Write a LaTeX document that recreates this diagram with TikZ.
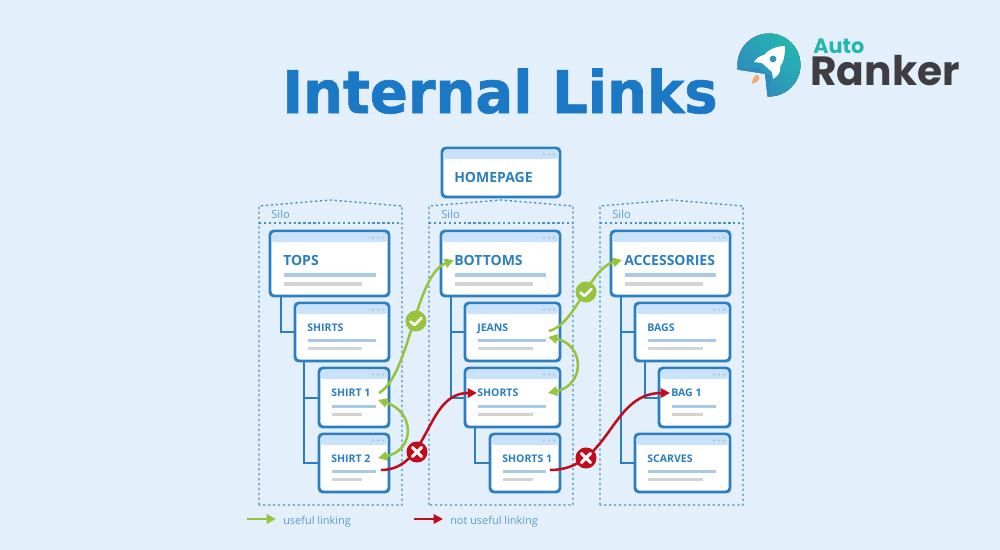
\documentclass[tikz,border=0pt]{standalone}
\usepackage{fontspec}
\setmainfont{Open Sans}
\newfontfamily\titlefont{DejaVu Sans}[BoldFeatures={FakeBold=1.2}]
\newfontfamily\logofont{Poppins}
\usetikzlibrary{arrows.meta,shadings}
\definecolor{bgc}{HTML}{E3F0FC}
\definecolor{bluec}{HTML}{2B7FC1}
\definecolor{headc}{HTML}{C9E2F9}
\definecolor{dotc}{HTML}{B4C8DC}
\definecolor{barc}{HTML}{A9C9E8}
\definecolor{greyc}{HTML}{D3D3D3}
\definecolor{silotxt}{HTML}{5E9BC6}
\definecolor{silol}{HTML}{4E8FB5}
\definecolor{titlec}{HTML}{1B78C4}
\definecolor{greenc}{HTML}{97C33F}
\definecolor{redc}{HTML}{C00D1E}
\definecolor{tealc}{HTML}{25B5B0}
\definecolor{teald}{HTML}{2F88BF}
\definecolor{flamec}{HTML}{F5A96B}
\definecolor{darkc}{HTML}{3E3E42}
\tikzset{
  x=0.75pt,y=-0.75pt,
  pagebox/.style={draw=bluec,line width=2.2pt,rounded corners=3pt,fill=white,inner sep=0pt},
  tree/.style={draw=bluec,line width=2.2pt},
  silobox/.style={draw=silol,line width=1pt,dash pattern=on 1.7pt off 2pt},
  linkg/.style={draw=greenc,line width=1.9pt,-{Triangle[length=7pt,width=7pt]}},
  linkgb/.style={draw=greenc,line width=1.9pt,{Triangle[length=7pt,width=7pt]}-{Triangle[length=7pt,width=7pt]}},
  linkr/.style={draw=redc,line width=1.9pt,-{Triangle[length=7pt,width=7pt]}},
  badge/.style={circle,minimum size=15.8pt,inner sep=0pt,text=white},
  boxtext/.style={anchor=base west,text=bluec,font=\bfseries,inner sep=0pt},
  silotext/.style={anchor=base west,text=silotxt,font=\fontsize{8.4pt}{10pt}\selectfont,inner sep=0pt},
  legendtext/.style={anchor=base west,text=silotxt,font=\fontsize{8.2pt}{10pt}\selectfont,inner sep=0pt},
}
\newcommand{\pagenode}[9]{%
  \pgfmathsetmacro{\boxw}{(#4-#2)*0.75}\pgfmathsetmacro{\boxh}{(#5-#3)*0.75}%
  \node[pagebox,minimum width=\boxw pt,minimum height=\boxh pt] (#1) at ({(#2+#4)/2},{(#3+#5)/2}) {};%
  \fill[headc,rounded corners=2.2pt] (#2+1.5,#3+1.5) -- (#4-1.5,#3+1.5) -- (#4-1.5,#3+11) -- (#2+1.5,#3+11) -- cycle;%
  \foreach \k in {0,1,2} \fill[dotc] (#4-6-\k*5,#3+6.5) circle (1.3);%
  \node[boxtext,font=\bfseries\fontsize{#9}{#9}\selectfont] (#1-label) at (#7,#8) {#6};%
}
\newcommand{\pagebars}[6]{%
  \fill[barc] (#1,#2) rectangle (#3,#2+#6);\fill[greyc] (#1,#4) rectangle (#5,#4+#6);}
\begin{document}
\begin{tikzpicture}
\useasboundingbox (0,0) rectangle (1000,550);
\fill[bgc] (0,0) rectangle (1000,550);
% title
\node[anchor=base west,inner sep=0pt,text=titlec,xscale=0.956,font=\titlefont\bfseries\fontsize{44pt}{46pt}\selectfont] (title) at (282,113) {Internal Links};
% logo
\fill[left color=teald,right color=tealc,shading angle=135] (769,65) circle (31.5);
\fill[bgc] (765,74) -- (735,69.5) -- (733,85) -- (750,100) -- (767.5,98) -- cycle;
\fill[teald] (736,69) -- (766,74) -- (757,67) -- cycle;
\fill[teald] (765,74) -- (767.5,96.5) -- (772,76) -- cycle;
\fill[white] (785,46) .. controls (776,46) and (768,50) .. (764,55) .. controls (759,56) and (756,59) .. (754,62) -- (762,63) -- (772,72) -- (773,79) .. controls (778,76) and (781,72) .. (780,67) .. controls (784,62) and (785,54) .. (785,46) -- cycle;
\fill[teald!70!tealc] (773,59) circle (3.4);
\fill[flamec] (757.5,74.5) .. controls (754,75.5) and (752,80) .. (752,83.5) .. controls (755.5,83.5) and (759,81) .. (759.5,77.5) -- cycle;
\node[anchor=base west,inner sep=0pt,text=tealc,font=\logofont\fontsize{15.6pt}{16pt}\selectfont\bfseries] (auto) at (813,53) {Auto};
\node[anchor=base west,inner sep=0pt,text=darkc,font=\logofont\fontsize{30.6pt}{31pt}\selectfont\bfseries] (ranker) at (810,85) {Ranker};
% silos
\foreach \l/\r/\n in {259/402/a,429/573/b,600/743/c}{
  \draw[silobox] (\l,505) -- (\l,206) -- ({(\l+\r)/2},200) -- (\r,206) -- (\r,505) -- cycle;
  \draw[silobox] (\l,223) -- (\r,223);
  \node[silotext] (silo\n) at (\l+12,218) {Silo};
}
% tree lines
\draw[tree] (281,296) |- (295,332);
\draw[tree] (304,361) |- (319,398);
\draw[tree] (304,398) |- (319,463);
\draw[tree] (451,296) |- (465,332);
\draw[tree] (451,332) |- (465,398);
\draw[tree] (475,427) |- (490,463);
\draw[tree] (621,296) |- (635,332);
\draw[tree] (621,332) |- (635,463);
\draw[tree] (645,361) |- (659,398);
% boxes
\pagenode{home}{442}{148}{560}{197}{HOMEPAGE}{454}{182}{10.5pt}
\pagenode{tops}{270}{231}{389}{296}{TOPS}{283}{265}{10.5pt}
\pagebars{284}{273}{376}{282}{362}{3.5}
\pagenode{shirts}{295}{303}{389}{361}{SHIRTS}{307}{331}{7.9pt}
\pagebars{308}{339}{376}{347}{362}{3.2}
\pagenode{shirt1}{319}{368}{389}{427}{SHIRT 1}{331}{396}{7.9pt}
\pagebars{332}{405}{376}{413}{362}{3.2}
\pagenode{shirt2}{319}{434}{389}{492}{SHIRT 2}{331}{462}{7.9pt}
\pagebars{332}{470}{376}{478}{362}{3.2}
\pagenode{bottoms}{441}{231}{560}{296}{BOTTOMS}{454}{265}{10.5pt}
\pagebars{455}{273}{546}{282}{533}{3.5}
\pagenode{jeans}{465}{303}{560}{361}{JEANS}{477}{331}{7.9pt}
\pagebars{478}{339}{546}{347}{533}{3.2}
\pagenode{shorts}{465}{368}{560}{427}{SHORTS}{477}{396}{7.9pt}
\pagebars{478}{405}{546}{413}{533}{3.2}
\pagenode{shorts1}{490}{434}{560}{492}{SHORTS 1}{502}{462}{7.9pt}
\pagebars{503}{470}{546}{478}{533}{3.2}
\pagenode{access}{611}{231}{730}{296}{ACCESSORIES}{624}{265}{10.5pt}
\pagebars{625}{273}{716}{282}{703}{3.5}
\pagenode{bags}{635}{303}{730}{361}{BAGS}{647}{331}{7.9pt}
\pagebars{648}{339}{716}{347}{703}{3.2}
\pagenode{bag1}{659}{368}{730}{427}{BAG 1}{671}{396}{7.9pt}
\pagebars{672}{405}{716}{413}{703}{3.2}
\pagenode{scarves}{635}{434}{730}{492}{SCARVES}{647}{462}{7.9pt}
\pagebars{648}{470}{716}{478}{703}{3.2}
% link end points
\coordinate (g1s) at (379,393);\coordinate (g1e) at (454,260);
\coordinate (g2s) at (549,331);\coordinate (g2e) at (622,260);
\coordinate (b1a) at (378,400);\coordinate (b1b) at (378,458);
\coordinate (b2a) at (548,337);\coordinate (b2b) at (548,393);
\coordinate (r1s) at (381,470);\coordinate (r1e) at (477,393);
\coordinate (r2s) at (550,470);\coordinate (r2e) at (670,393);
% links
\draw[linkg] (g1s) .. controls (410,375) and (415,275) .. (g1e);
\draw[linkg] (g2s) .. controls (575,325) and (590,268) .. (g2e);
\draw[linkgb] (b1a) .. controls (415,412) and (415,450) .. (b1b);
\draw[linkgb] (b2a) .. controls (585,345) and (585,385) .. (b2b);
\draw[linkr] (r1s) .. controls (430,470) and (425,393) .. (r1e);
\draw[linkr] (r2s) .. controls (610,470) and (610,393) .. (r2e);
% badges
\node[badge,fill=greenc] (okA) at (416,321) {};
\node[badge,fill=greenc] (okB) at (586,292) {};
\node[badge,fill=redc] (noA) at (417,452) {};
\node[badge,fill=redc] (noB) at (586,458) {};
\foreach \c in {okA,okB}
  \draw[white,line width=2pt,line cap=round,line join=round] ([shift={(-5.5,0.5)}]\c.center) -- ([shift={(-1.5,4)}]\c.center) -- ([shift={(5.5,-3)}]\c.center);
\foreach \c in {noA,noB}{
  \draw[white,line width=2.2pt,line cap=round] ([shift={(-4.5,-4.5)}]\c.center) -- ([shift={(4.5,4.5)}]\c.center);
  \draw[white,line width=2.2pt,line cap=round] ([shift={(-4.5,4.5)}]\c.center) -- ([shift={(4.5,-4.5)}]\c.center);
}
% legend
\coordinate (lg1) at (247,519);\coordinate (lg2) at (276,519);
\coordinate (lr1) at (414,519);\coordinate (lr2) at (443,519);
\draw[linkg] (lg1) -- (lg2);
\draw[linkr] (lr1) -- (lr2);
\node[legendtext] (lgt) at (283,524) {useful linking};
\node[legendtext] (lrt) at (450,524) {not useful linking};
\end{tikzpicture}
\end{document}
